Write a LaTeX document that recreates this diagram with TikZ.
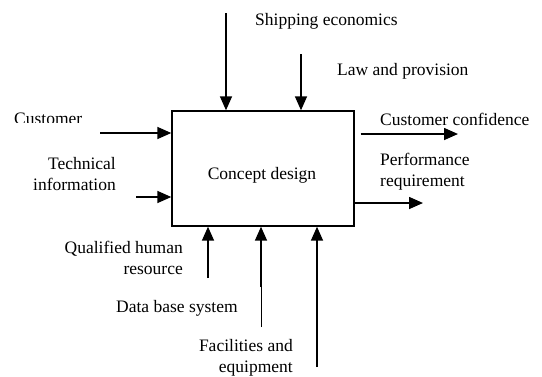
\documentclass[tikz,border=0pt]{standalone}
\usepackage{fontspec}
\setmainfont{Liberation Serif}
\usepackage{tikz}
\usetikzlibrary{
    calc,
    arrows.meta
}

\begin{document}
\begin{tikzpicture}[x=1pt,y=-1pt,
    lbl/.style={inner sep=0pt,font=\fontsize{17.5}{21}\selectfont},
    arr/.style={line width=1.6pt,-{Triangle[length=14pt,width=12pt]}},
    thinline/.style={line width=0.8pt}]
%\draw [help lines](0,0) grid[step=20] (542,376);
\useasboundingbox (0,0) rectangle (542,376);
% the activity box
\node [draw,line width=1.4pt,minimum width=182pt,minimum height=115pt,inner sep=0pt] (cd) at (263,168.5) {};
\node [lbl] (cdl) at (262,175) {Concept design};
% controls from above
\coordinate (ship) at (226,13);
\coordinate (law) at (301,54);
\node [lbl,anchor=west] (shipl) at (255,21) {Shipping economics};
\node [lbl,anchor=west] (lawl) at (337,71) {Law and provision};
\draw [arr] (ship) -- (ship |- cd.north);
\draw [arr] (law) -- (law |- cd.north);
% inputs from the left
\coordinate (cust) at (100,133);
\coordinate (tech) at (136,197);
\begin{scope}
\clip (0,100) rectangle (140,122);
\node [lbl,anchor=west] (custl) at (14,118.5) {Customer};
\end{scope}
\node [lbl,anchor=east,align=right] (techl) at (116,174.5) {Technical\\information};
\draw [arr] (cust) -- (cust -| cd.west);
\draw [arr] (tech) -- (tech -| cd.west);
% outputs to the right
\coordinate (conf) at (458,134);
\coordinate (perf) at (423,203);
\node [lbl,anchor=west] (confl) at (380,119) {Customer confidence};
\node [lbl,anchor=west,align=left] (perfl) at (380,172) {Performance\\requirement};
\draw [arr] (conf -| cd.east) ++(6,0) coordinate (conf0) (conf0) -- (conf);
\draw [arr] (perf -| cd.east) -- (perf);
% mechanisms from below
\coordinate (hum) at (208,278);
\coordinate (dbk) at (261,287);
\coordinate (db) at (261,327);
\coordinate (fac) at (317,367);
\node [lbl,anchor=east,align=right] (huml) at (183,257.5) {Qualified human\\resource};
\node [lbl,anchor=west] (dbl) at (116,308) {Data base system};
\node [lbl,anchor=east,align=right] (facl) at (293,357.5) {Facilities and\\equipment};
\draw [arr] (hum) -- (hum |- cd.south);
\draw [thinline] (db) -- (dbk);
\draw [arr] (dbk) -- (dbk |- cd.south);
\draw [arr] (fac) -- (fac |- cd.south);
\end{tikzpicture}
\end{document}
